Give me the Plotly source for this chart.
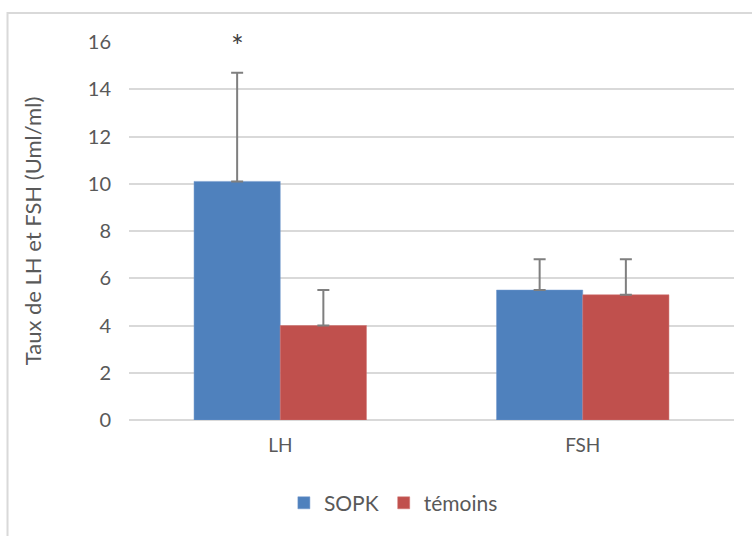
import plotly.graph_objects as go

# Hormone levels (mean ± SD)
hormones = ["LH", "FSH"]
sopk_values = [10.1, 5.5]
sopk_sd = [4.6, 1.3]
temoins_values = [4.0, 5.3]
temoins_sd = [1.5, 1.5]
y_ticks = [0, 2, 4, 6, 8, 10, 12, 14, 16]

FONT = "Lato, 'Open Sans', sans-serif"
TEXT = "#595959"
GRID = "#d9d9d9"
ERR = "#7f7f7f"

fig = go.Figure()
fig.add_trace(go.Bar(
    name="SOPK", x=hormones, y=sopk_values,
    marker=dict(color="#4f81bd", line=dict(color="#6f97cc", width=0.5)),
    error_y=dict(type="data", array=sopk_sd, arrayminus=[0, 0], symmetric=False,
                 color=ERR, thickness=2, width=6),
))
fig.add_trace(go.Bar(
    name="témoins", x=hormones, y=temoins_values,
    marker=dict(color="#c0504d", line=dict(color="#d07370", width=0.5)),
    error_y=dict(type="data", array=temoins_sd, arrayminus=[0, 0], symmetric=False,
                 color=ERR, thickness=2, width=6),
))

# significance marker above the LH SOPK bar
fig.add_annotation(x="LH", y=16, text="*", showarrow=False, xshift=-43, yshift=-3,
                   font=dict(size=30, color="#404040", family=FONT))

# outer chart frame
fig.add_shape(type="rect", xref="paper", yref="paper",
              x0=-0.2008, x1=1.1, y0=-0.4, y1=1.0767,
              line=dict(color=GRID, width=2), fillcolor="rgba(0,0,0,0)", layer="below")

fig.update_layout(
    width=752, height=536,
    margin=dict(l=129, r=18, t=42, b=116, autoexpand=False),
    paper_bgcolor="white", plot_bgcolor="white",
    barmode="group", bargap=0.43, bargroupgap=0,
    font=dict(family=FONT, color=TEXT, size=14),
    showlegend=True,
    legend=dict(orientation="h", x=0.256, xanchor="left", y=-0.22, yanchor="middle",
                font=dict(size=21, color=TEXT), itemwidth=30, traceorder="normal"),
    xaxis=dict(showgrid=False, showline=False, zeroline=False, ticks="",
               ticklabelstandoff=12, tickfont=dict(size=19, color=TEXT)),
    yaxis=dict(range=[0, 16], tickvals=y_ticks, showgrid=True, gridcolor=GRID, gridwidth=2,
               zeroline=True, zerolinecolor=GRID, zerolinewidth=2, showline=False,
               ticks="", ticklabelstandoff=17, tickfont=dict(size=20, color=TEXT),
               title=dict(text="Taux de LH et FSH (Uml/ml)", font=dict(size=22, color=TEXT),
                          standoff=40)),
)

fig.write_html("out.html")
